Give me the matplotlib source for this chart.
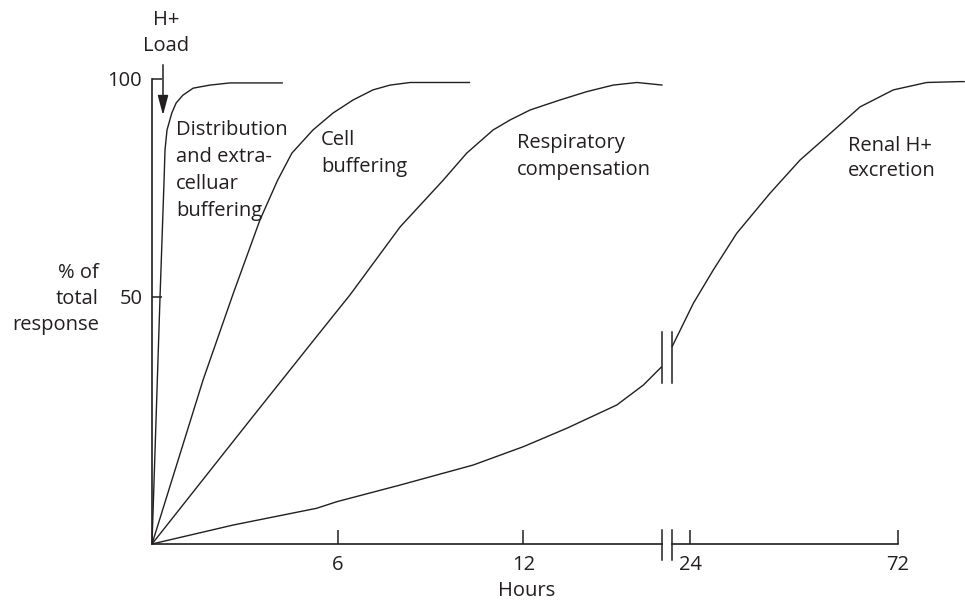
import numpy as np
import matplotlib
matplotlib.use("Agg")
import matplotlib.pyplot as plt
from matplotlib.patches import FancyArrowPatch

INK = "#231f20"
plt.rcParams["font.family"] = ["Open Sans", "DejaVu Sans"]
FS = 14.5

# Time course of the defence against an acid load: hours vs % of total response
dist_hours = [0, 0.26, 0.39, 0.42, 0.485, 0.64, 0.78, 1.0, 1.33, 1.87, 2.52, 4.23]
dist_pct = [0, 50.1, 76.8, 83.7, 88.3, 92.2, 94.5, 96.3, 97.9, 98.6, 99.1, 99.1]

cell_hours = [0, 1.65, 2.63, 3.49, 4.06, 4.52, 5.20, 5.85, 6.5, 7.14, 7.69, 8.34, 10.28]
cell_pct = [0, 33.2, 50.9, 67.7, 76.8, 83.0, 88.3, 92.2, 95.2, 97.5, 98.6, 99.2, 99.2]

resp_hours = [0, 3.17, 5.32, 6.40, 8.02, 9.41, 10.17, 11.02, 11.57, 12.22, 13.19,
              14.05, 14.90, 15.67, 16.50]
resp_pct = [0, 25.1, 42.0, 50.5, 66.1, 76.8, 83.0, 88.3, 90.6, 92.9, 95.2,
            97.1, 98.6, 99.2, 98.6]

renal_hours = [0, 2.63, 5.32, 5.97, 8.02, 10.38, 12.0, 13.40, 15.02, 15.88, 16.47,
               19.84, 24.76, 29.38, 34.79, 42.49, 49.42, 55.59, 63.29, 70.98,
               78.70, 86.40, 87.5]
renal_pct = [0, 3.85, 7.23, 8.56, 11.94, 15.99, 19.70, 23.42, 28.14, 32.19, 35.89,
             39.9, 48.7, 56.2, 64.6, 73.8, 81.4, 86.8, 93.6, 97.5,
             99.2, 99.4, 99.4]

x_ticks_short = [6, 12]
x_ticks_long = [24, 72]
y_ticks = [50, 100]

# broken time axis: early hours on the left panel, later hours compressed on the right
LEFT_END = 16.48
RIGHT_START = 19.84
RIGHT_END = 87.55

W, H = 965, 602
fig = plt.figure(figsize=(W / 100, H / 100), dpi=100)


def fpos(x, y):
    return x / W, 1 - y / H


# vertical scale: the lower half of the response axis is drawn a little taller
def y_fwd(v):
    v = np.asarray(v, float)
    return np.where(v <= 50, v * 247 / 50, 247 + (v - 50) * 218 / 50)


def y_inv(p):
    p = np.asarray(p, float)
    return np.where(p <= 247, p * 50 / 247, 50 + (p - 247) * 50 / 218)


ax1 = fig.add_axes([152 / W, 58 / H, 510 / W, 465 / H])
ax2 = fig.add_axes([672 / W, 58 / H, 293 / W, 465 / H])
for ax in (ax1, ax2):
    ax.set_yscale("function", functions=(y_fwd, y_inv))
    ax.set_ylim(0, 100)
    ax.patch.set_alpha(0)
    for s in ("top", "right"):
        ax.spines[s].set_visible(False)
    ax.spines["bottom"].set_color(INK)
    ax.spines["bottom"].set_linewidth(1.2)
    ax.tick_params(axis="x", direction="in", length=10, width=1.1, color=INK,
                   labelsize=FS, labelcolor=INK, pad=8)
    ax.yaxis.set_minor_locator(plt.NullLocator())

ax1.set_xlim(0, LEFT_END)
ax2.set_xlim(RIGHT_START, RIGHT_END)
ax2.spines["left"].set_visible(False)
ax2.spines["bottom"].set_bounds(RIGHT_START, x_ticks_long[-1])
ax2.set_yticks([])

ax1.spines["left"].set_color(INK)
ax1.spines["left"].set_linewidth(1.2)
ax1.set_xticks(x_ticks_short)
ax1.set_xticklabels([str(t) for t in x_ticks_short])
ax2.set_xticks(x_ticks_long)
ax2.set_xticklabels([str(t) for t in x_ticks_long])
ax1.set_yticks(y_ticks)
ax1.set_yticklabels([str(t) for t in y_ticks])
ax1.tick_params(axis="y", direction="in", length=7.5, width=1.1, color=INK,
                labelsize=FS, labelcolor=INK, pad=7)

line_kw = dict(color=INK, lw=1.0, solid_capstyle="butt", solid_joinstyle="round",
               clip_on=False)
ax1.plot(dist_hours, dist_pct, **line_kw)
ax1.plot(cell_hours, cell_pct, **line_kw)
ax1.plot(resp_hours, resp_pct, **line_kw)

rh = np.array(renal_hours)
rp = np.array(renal_pct)
early = rh <= LEFT_END + 0.1
ax1.plot(rh[early], rp[early], **line_kw)
ax2.plot(rh[~early], rp[~early], **line_kw)

# break marks on the time axis and on the renal curve
brk_kw = dict(color=INK, lw=1.1, clip_on=False)
for ax, xa in ((ax1, 1.0), (ax2, 0.0)):
    ax.plot([xa, xa], [-0.034, 0.030], transform=ax.transAxes, **brk_kw)
    ax.plot([xa, xa], [0.346, 0.456], transform=ax.transAxes, **brk_kw)

txt_kw = dict(fontsize=FS, color=INK, va="center")


def label(x, y0, lines, ha="left", step=27):
    for i, s in enumerate(lines):
        fig.text(*fpos(x, y0 + i * step), s, ha=ha, **txt_kw)


label(166, 20, ["H+", "Load"], ha="center", step=26)
label(99, 273, ["% of", "total", "response"], ha="right", step=26)
label(176, 130, ["Distribution", "and extra-", "celluar", "buffering"])
label(321, 140, ["Cell", "buffering"])
label(517, 143, ["Respiratory", "compensation"])
label(848, 146, ["Renal H+", "excretion"], step=25)
fig.text(*fpos(527, 591), "Hours", ha="center", **txt_kw)

arrow = FancyArrowPatch(fpos(163, 62), fpos(163, 118), transform=fig.transFigure,
                        arrowstyle="-|>,head_length=1.2,head_width=0.32",
                        mutation_scale=10, color=INK, lw=1.1)
fig.patches.append(arrow)

fig.savefig("out.png", dpi=100, facecolor="white")
